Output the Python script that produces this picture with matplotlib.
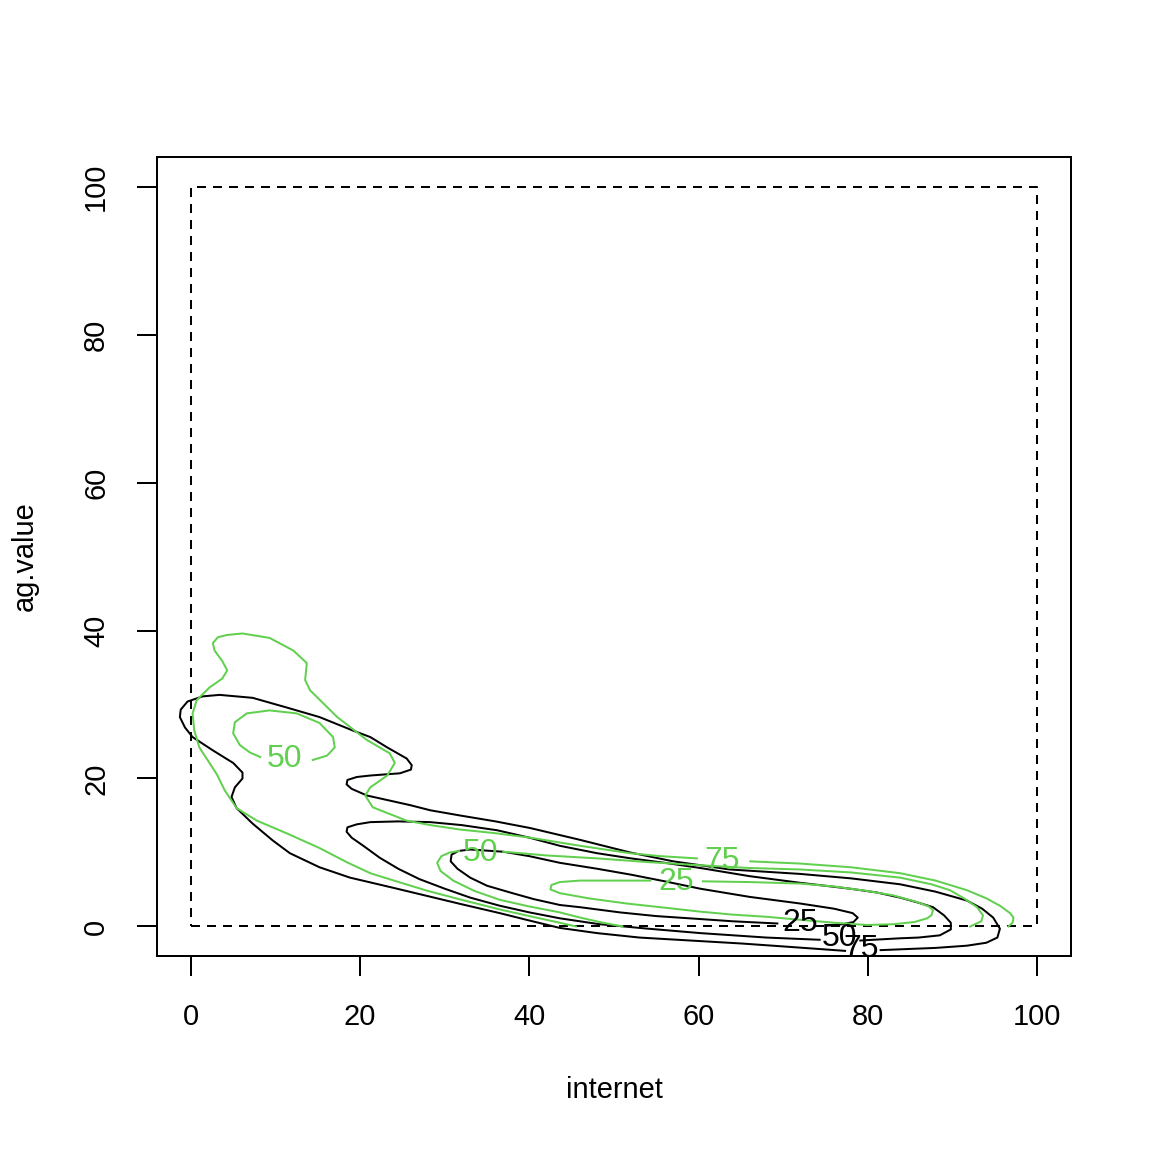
import numpy as np
import matplotlib.pyplot as plt

plt.rcParams['font.family'] = ['Liberation Sans', 'DejaVu Sans']

GREEN = '#61D04F'

# axis setup
x_ticks = [0, 20, 40, 60, 80, 100]
y_ticks = [0, 20, 40, 60, 80, 100]
grid_x = [0, 100, 100, 0, 0]          # dashed box = extent of the density grid
grid_y = [0, 0, 100, 100, 0]

# black contours (levels 25 / 50 / 75), one open path each
black75 = np.array([
    (77.3, -3.3), (70, -2.7), (65, -2.3), (59, -1.9), (53, -1.5), (48, -0.9),
    (43.6, -0.2), (40, 0.8), (36.5, 1.8), (32, 3.0), (28, 4.1), (24, 5.2),
    (18.8, 6.6), (15.2, 8.0), (11.7, 9.9), (9.7, 11.6), (7.3, 13.9), (5.4, 16.0),
    (4.8, 17.5), (5.2, 18.8), (6.1, 20.0), (6.1, 20.8), (5.0, 22.1), (2.6, 23.8),
    (0.2, 25.6), (-0.7, 26.9), (-1.3, 28.3), (-1.2, 29.3), (-0.4, 30.4),
    (1.4, 31.1), (3.4, 31.3), (7.3, 30.9), (11.3, 29.6), (15.2, 28.3),
    (19.1, 26.5), (21.2, 25.6), (23.2, 24.2), (25.5, 22.7), (26.1, 21.8),
    (26.0, 21.2), (24.7, 20.7), (21.2, 20.4), (19.6, 20.2), (18.5, 19.8),
    (18.4, 19.2), (19.0, 18.6), (20.8, 17.7), (25.9, 16.4), (28.3, 15.7),
    (31.8, 15.0), (36, 14.2), (40.1, 13.3), (46, 11.7), (51.9, 10.0),
    (57, 8.8), (63.7, 7.7), (72, 7.1), (78, 6.5), (83.8, 5.7), (88, 4.7),
    (91.7, 3.5), (93.5, 2.4), (94.8, 1.2), (95.6, -0.3), (95.3, -1.5),
    (94, -2.2), (91.7, -2.6), (88, -2.9), (85.8, -3.0), (81.5, -3.2),
])
black50 = np.array([
    (74.3, -1.8), (68, -1.5), (60.2, -0.9), (54, -0.3), (48.3, 0.3), (43.6, 1.1),
    (40, 1.9), (36.5, 2.8), (33, 3.9), (30, 5.1), (27, 6.4), (24.5, 7.8),
    (22.3, 9.3), (20.5, 10.8), (19, 12.0), (18.4, 12.8), (18.5, 13.4),
    (19.6, 13.8), (21.2, 14.1), (24.5, 14.2), (28.3, 14.1), (32, 13.7),
    (36.2, 13.0), (40, 12.0), (43.6, 10.9), (48, 9.9), (52, 9.2), (56, 8.6),
    (60.2, 7.9), (66, 6.8), (72, 5.9), (77.9, 5.1), (81, 4.6), (83.8, 3.9),
    (86, 3.2), (87.7, 2.6), (89, 1.5), (89.8, 0.5), (89.8, -0.4), (88.5, -1.2),
    (86, -1.5), (83.8, -1.6), (79.1, -1.9),
])
black25 = np.array([
    (69.3, 0.4), (64, 0.7), (60.2, 1.0), (55, 1.4), (50.7, 1.9), (46, 2.6),
    (43.6, 2.9), (40.5, 3.7), (38, 4.5), (35, 5.5), (33, 6.6), (31.5, 7.8),
    (30.7, 8.8), (30.8, 9.7), (31.6, 10.2), (33, 10.4), (36.9, 10.1), (40, 9.5),
    (43.6, 8.6), (48, 7.8), (52, 7.0), (56, 6.1), (60.2, 5.1), (66, 4.0),
    (72, 3.1), (76, 2.4), (78.2, 1.8), (78.8, 1.2), (78.3, 0.6), (77, 0.3),
    (75.2, 0.1),
])

# green contours (levels 25 / 50 / 75), cut at the lower grid edge
green75_a = np.array([
    (45.5, 0.0), (43.6, 0.5), (40, 1.4), (36.5, 2.3), (32, 3.6), (28, 4.8),
    (24, 6.2), (21.2, 7.2), (18.4, 8.7), (15.2, 10.6), (11.3, 12.6), (7.8, 14.3),
    (5.4, 16.0), (4.0, 18.4), (3.1, 20.5), (2.2, 22.1), (1.0, 24.2), (0.4, 26.5),
    (0.2, 28.8), (0.7, 30.6), (2.2, 32.3), (3.7, 33.5), (4.3, 34.6), (3.7, 35.9),
    (2.8, 37.3), (2.6, 38.3), (3.2, 39.1), (4.3, 39.4), (6.1, 39.6), (9.3, 39.0),
    (12.1, 37.3), (13.7, 35.6), (13.5, 33.3), (14.1, 31.9), (17.3, 28.3),
    (20.8, 25.2), (23.5, 23.4), (24.1, 22.1), (23.2, 20.4), (21.2, 18.8),
    (20.6, 17.7), (21.5, 16.1), (25.5, 14.3), (28.3, 13.7), (31.8, 13.1),
    (36, 12.6), (40.1, 12.0), (46, 10.9), (51.9, 9.9), (55.5, 9.5), (59.8, 9.2),
])
green75_b = np.array([
    (66.1, 8.8), (72, 8.5), (78, 8.0), (83.8, 7.2), (88, 6.2), (91.7, 4.9),
    (94, 3.8), (95.6, 2.8), (96.8, 1.8), (97.2, 1.2), (97.1, 0.5), (96.6, 0.0),
])
green50_loop = np.array([
    (14.4, 22.5), (16.1, 23.1), (17.0, 24.2), (16.8, 25.6), (15.2, 27.5),
    (12.5, 28.8), (9.3, 29.2), (6.6, 28.8), (5.2, 27.6), (5.0, 26.1),
    (5.8, 24.5), (7.0, 23.5), (8.2, 22.9),
])
green50_a = np.array([
    (51, 0.0), (48.7, 0.5), (46, 1.2), (43.6, 1.9), (40, 2.7), (36.5, 3.6),
    (33.5, 4.8), (31, 6.2), (29.5, 7.5), (29.1, 8.6), (29.6, 9.5), (30.6, 10.0),
    (31.7, 10.2),
])
green50_b = np.array([
    (36.9, 10.1), (42, 9.6), (48, 9.2), (54, 8.7), (59.8, 8.3), (66, 7.9),
    (72, 7.7), (78, 7.3), (83.8, 6.6), (87.5, 5.7), (89.7, 4.9), (91.5, 3.7),
    (92.9, 2.6), (93.6, 1.5), (93.4, 0.7), (92.1, 0.0),
])
green25 = np.array([
    (60.5, 6.1), (66, 6.0), (72, 5.8), (76, 5.4), (79.9, 4.8), (83, 4.2),
    (85.8, 3.3), (87.2, 2.7), (87.7, 2.2), (87.5, 1.5), (87, 1.1), (85.5, 0.6),
    (83, 0.3), (79.9, 0.2), (76, 0.5), (72, 0.9), (68.1, 1.3), (64, 1.6),
    (60.2, 2.0), (56.3, 2.5), (51.5, 3.1), (47, 3.8), (43.6, 4.5), (42.5, 5.0),
    (42.6, 5.6), (43.6, 6.0), (46, 6.2), (48.3, 6.2), (54.3, 6.2),
])

# contour labels
black_labels = ['25', '50', '75']
black_label_x = [72.0, 76.6, 79.2]
black_label_y = [0.4, -1.6, -3.1]
green_labels = ['50', '50', '25', '75']
green_label_x = [11.1, 34.2, 57.4, 62.8]
green_label_y = [22.7, 9.9, 6.0, 8.9]

fig = plt.figure(figsize=(8, 8), dpi=144)
ax = fig.add_axes([0.1363, 0.1701, 0.7934, 0.6936])

ax.plot(grid_x, grid_y, color='black', lw=1.0, ls=(0, (4.5, 3.5)))

for seg in [black75, black50, black25]:
    ax.plot(seg[:, 0], seg[:, 1], color='black', lw=1.0)
for seg in [green75_a, green75_b, green50_loop, green50_a, green50_b, green25]:
    ax.plot(seg[:, 0], seg[:, 1], color=GREEN, lw=1.0)

for txt, x, y in zip(black_labels, black_label_x, black_label_y):
    ax.text(x, y, txt, color='black', fontsize=16, ha='center', va='center',
            clip_on=True)
for txt, x, y in zip(green_labels, green_label_x, green_label_y):
    ax.text(x, y, txt, color=GREEN, fontsize=16, ha='center', va='center',
            clip_on=True)

ax.set_xlim(-4, 104)
ax.set_ylim(-4, 104)
ax.set_xticks(x_ticks)
ax.set_yticks(y_ticks)
ax.tick_params(axis='both', length=10, width=1.0, pad=13.5, labelsize=14.5,
               colors='black')
for lab in ax.get_yticklabels():
    lab.set_rotation(90)
    lab.set_va('center')
for sp in ax.spines.values():
    sp.set_linewidth(1.0)

ax.set_xlabel('internet', fontsize=14.5)
ax.set_ylabel('ag.value', fontsize=14.5)
ax.xaxis.set_label_coords(0.5, -0.1677)
ax.yaxis.set_label_coords(-0.1444, 0.5)
ax.xaxis.label.set_va('center')
ax.yaxis.label.set_va('center')

fig.savefig('out.png', dpi=144)
